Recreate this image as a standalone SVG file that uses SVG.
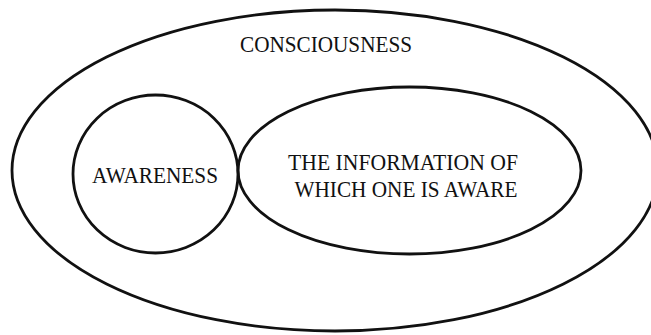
<svg xmlns="http://www.w3.org/2000/svg" width="651" height="335" viewBox="0 0 651 335">
<style>
.shape{fill:none;stroke:#111;stroke-width:2.8}
.lbl{font-family:"Liberation Serif","Times New Roman",serif;font-size:23px;fill:#111;text-anchor:middle}
</style>
<rect width="651" height="335" fill="#fff"/>
<g id="consciousness">
<ellipse class="shape" cx="335" cy="170.5" rx="323" ry="160.5"/>
<text class="lbl" x="326" y="52" textLength="172" lengthAdjust="spacingAndGlyphs">CONSCIOUSNESS</text>
</g>
<g id="awareness">
<ellipse class="shape" cx="155.5" cy="174" rx="82.5" ry="79"/>
<text class="lbl" x="155" y="183" textLength="126" lengthAdjust="spacingAndGlyphs">AWARENESS</text>
</g>
<g id="information">
<ellipse class="shape" cx="409.5" cy="170.5" rx="171.5" ry="83.5"/>
<text class="lbl" x="403" y="170" textLength="230" lengthAdjust="spacingAndGlyphs">THE INFORMATION OF</text>
<text class="lbl" x="406" y="197" textLength="223" lengthAdjust="spacingAndGlyphs">WHICH ONE IS AWARE</text>
</g>
<g id="connectors"></g>
</svg>
